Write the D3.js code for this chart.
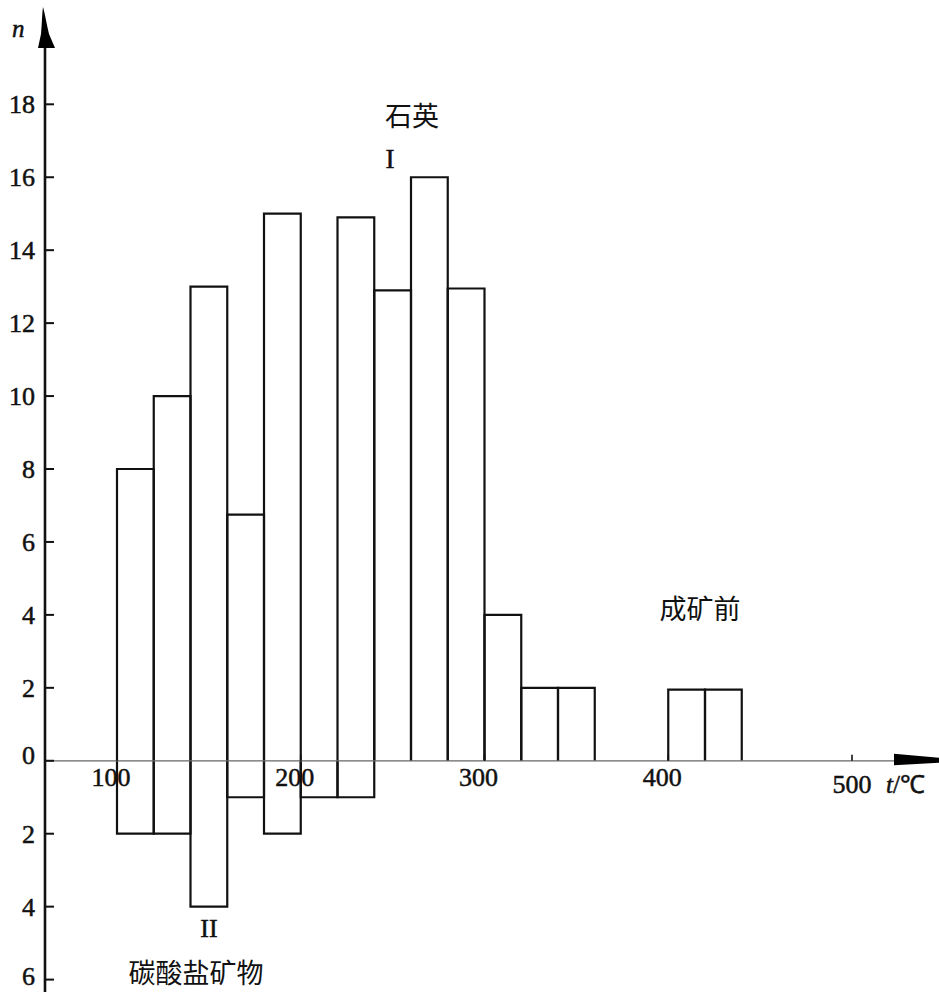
<!DOCTYPE html>
<html>
<head>
<meta charset="utf-8">
<style>
  body { margin: 0; background: #fff; }
  svg { display: block; }
</style>
</head>
<body>
<div id="chart"></div>

<script src="https://cdnjs.cloudflare.com/ajax/libs/d3/7.8.5/d3.min.js"></script>
<script>
  // bins are 20 degrees wide, starting at 100
  const binStarts = [100, 120, 140, 160, 180, 200, 220, 240, 260, 280, 300, 320, 340, 360, 380, 400, 420];
  const binWidth = 20;
  // quartz (I), counted upwards
  const quartz = [8, 10, 13, 6.75, 15, 0, 14.9, 12.9, 16, 12.95, 4, 2, 2, 0, 0, 1.95, 1.95];
  // carbonate minerals (II), counted downwards
  const carbonate = [2, 2, 4, 1, 2, 1, 1, 0, 0, 0, 0, 0, 0, 0, 0, 0, 0];

  const yTicks = [-6, -4, -2, 0, 2, 4, 6, 8, 10, 12, 14, 16, 18];
  const xTicks = [100, 200, 300, 400, 500];

  const width = 939;
  const height = 992;
  const serif = "'Liberation Serif', 'Times New Roman', Times, serif";
  const cjk = "'Noto Sans CJK SC', sans-serif";

  const x = d3.scaleLinear().domain([100, 500]).range([117, 852]);
  const y = d3.scaleLinear().domain([-6, 18]).range([979.6, 104.3]);
  const axisX = 45;

  const svg = d3.create("svg")
    .attr("width", width)
    .attr("height", height)
    .attr("viewBox", [0, 0, width, height]);

  // helper for the serif number-style texts (slightly heavy, like the print)
  function numText(sel, size) {
    return sel.attr("font-family", serif)
      .attr("font-size", size)
      .attr("fill", "#111")
      .attr("stroke", "#111")
      .attr("stroke-width", 0.5);
  }
  function cjkText(sel) {
    return sel.attr("font-family", cjk)
      .attr("font-size", 27)
      .attr("fill", "#111");
  }

  // open-bottom bar outline: left side, top (or bottom), right side
  function barPath(x0, x1, v) {
    return `M${x0},${y(0)}V${y(v)}H${x1}V${y(0)}`;
  }

  const bars = binStarts.map((s, i) => ({s, up: quartz[i], down: carbonate[i]}));

  svg.append("g")
    .attr("fill", "none")
    .attr("stroke", "#111")
    .attr("stroke-width", 2.2)
    .selectAll("path")
    .data(bars.filter(d => d.up > 0))
    .join("path")
    .attr("d", d => barPath(x(d.s), x(d.s + binWidth), d.up));

  svg.append("g")
    .attr("fill", "none")
    .attr("stroke", "#111")
    .attr("stroke-width", 2.2)
    .selectAll("path")
    .data(bars.filter(d => d.down > 0))
    .join("path")
    .attr("d", d => barPath(x(d.s), x(d.s + binWidth), -d.down));

  // zero line (thin grey) with arrow on the right
  svg.append("line")
    .attr("x1", axisX).attr("x2", 896)
    .attr("y1", y(0)).attr("y2", y(0))
    .attr("stroke", "#666")
    .attr("stroke-width", 1.3);

  svg.append("path")
    .attr("d", `M894,${y(0) - 7}L939,${y(0) - 3}L939,${y(0) + 2}L894,${y(0) + 4.5}Z`)
    .attr("fill", "#000");

  // x ticks (small marks above the line) and labels
  svg.append("g")
    .attr("stroke", "#111")
    .attr("stroke-width", 1.6)
    .selectAll("line")
    .data(xTicks)
    .join("line")
    .attr("x1", d => x(d)).attr("x2", d => x(d))
    .attr("y1", y(0) - 6).attr("y2", y(0));

  svg.append("g")
    .selectAll("text")
    .data(xTicks)
    .join("text")
    .call(numText, 26)
    .attr("text-anchor", "middle")
    .attr("x", (d, i) => x(d) - (i === xTicks.length - 1 ? 0 : 6))
    .attr("y", (d, i) => i === xTicks.length - 1 ? 793 : 786)
    .text(d => d);

  // t/℃ label
  const tl = svg.append("text")
    .call(numText, 25)
    .attr("x", 886)
    .attr("y", 793);
  tl.append("tspan").attr("font-style", "italic").text("t");
  tl.append("tspan").text("/℃");

  // y axis
  svg.append("line")
    .attr("x1", axisX).attr("x2", axisX)
    .attr("y1", 40).attr("y2", height)
    .attr("stroke", "#111")
    .attr("stroke-width", 2.6);

  svg.append("path")
    .attr("d", "M43,7C45,14 47,26 49,34L55,48L38,48L41,34C42,24 42,14 43,7Z")
    .attr("fill", "#000");

  svg.append("g")
    .attr("stroke", "#111")
    .attr("stroke-width", 2)
    .selectAll("line")
    .data(yTicks)
    .join("line")
    .attr("x1", axisX).attr("x2", axisX + 9)
    .attr("y1", d => y(d)).attr("y2", d => y(d));

  svg.append("g")
    .selectAll("text")
    .data(yTicks)
    .join("text")
    .call(numText, 26)
    .attr("text-anchor", "end")
    .attr("x", 35)
    .attr("y", d => Math.min(y(d) + (d === 0 ? 3 : 9), 985))
    .text(d => Math.abs(d));

  svg.append("text")
    .call(numText, 25)
    .attr("font-style", "italic")
    .attr("x", 12)
    .attr("y", 37)
    .text("n");

  // annotations
  svg.append("text").call(cjkText).attr("text-anchor", "middle")
    .attr("x", 412).attr("y", 126).text("石英");
  svg.append("text").call(numText, 27).attr("text-anchor", "middle")
    .attr("x", 390).attr("y", 168).text("I");
  svg.append("text").call(numText, 26).attr("text-anchor", "middle")
    .attr("x", 209).attr("y", 937).text("II");
  svg.append("text").call(cjkText).attr("text-anchor", "middle")
    .attr("x", 196).attr("y", 983).text("碳酸盐矿物");
  svg.append("text").call(cjkText).attr("text-anchor", "middle")
    .attr("x", 700).attr("y", 619).text("成矿前");

  d3.select("#chart").node().appendChild(svg.node());
</script>
</body>
</html>
